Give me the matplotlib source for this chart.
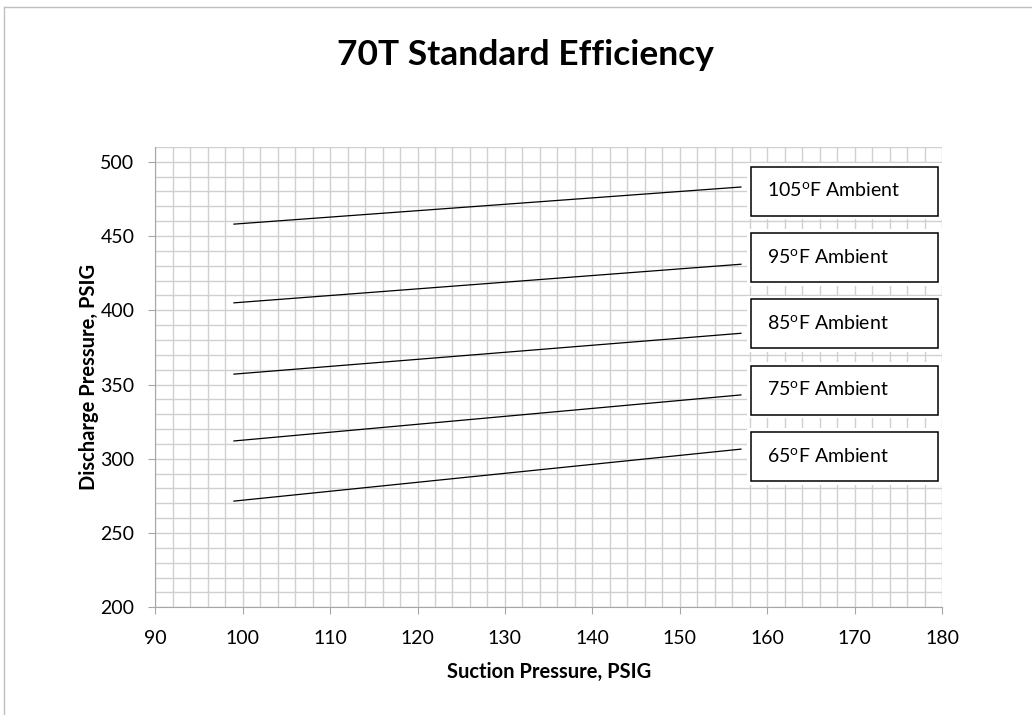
import matplotlib.pyplot as plt
from matplotlib.patches import Rectangle
from matplotlib.lines import Line2D
from matplotlib.ticker import MultipleLocator

plt.rcParams['font.family'] = ['Lato', 'DejaVu Sans']
plt.rcParams['mathtext.fontset'] = 'custom'
plt.rcParams['mathtext.rm'] = 'Lato'

# suction pressure end points and discharge pressure per ambient temperature
suction = [99, 157]
ambients = [105, 95, 85, 75, 65]
discharge = {
    105: [458, 483],
    95: [405, 431],
    85: [357, 384.5],
    75: [312, 343],
    65: [271.5, 306.5],
}

W, H = 1032, 715
fig = plt.figure(figsize=(W / 100, H / 100), dpi=100)
ax = fig.add_axes([155.3 / W, 1 - 607.3 / H, 786.7 / W, 460.4 / H])

grid_c = '#d0d0d0'
ax.set_xlim(90, 180)
ax.set_ylim(200, 510)
ax.xaxis.set_major_locator(MultipleLocator(10))
ax.yaxis.set_major_locator(MultipleLocator(50))
ax.xaxis.set_minor_locator(MultipleLocator(2))
ax.yaxis.set_minor_locator(MultipleLocator(10))
ax.grid(which='both', color=grid_c, linewidth=1.0)
ax.set_axisbelow(True)
ax.tick_params(which='major', direction='out', length=5, width=0.8, color='#a6a6a6',
               labelsize=14, pad=11)
ax.tick_params(axis='y', pad=10)
ax.tick_params(which='minor', length=0)
for s in ['top', 'right']:
    ax.spines[s].set_visible(False)
for s in ['left', 'bottom']:
    ax.spines[s].set_color('#a6a6a6')
    ax.spines[s].set_linewidth(0.8)

for t in ambients:
    ax.plot(suction, discharge[t], color='black', linewidth=0.9)

# ambient labels in boxes to the right of the line ends
bx0, bx1 = 0.7576, 0.9949
bh = 49 / 460.4
for i, t in enumerate(ambients):
    cy = 0.904 - i * 0.1441
    ax.add_patch(Rectangle((bx0 - 0.005, cy - bh / 2 - 0.008), bx1 - bx0 + 0.01, bh + 0.016,
                           transform=ax.transAxes, facecolor='white', edgecolor='none',
                           zorder=3))
    ax.add_patch(Rectangle((bx0, cy - bh / 2), bx1 - bx0, bh, transform=ax.transAxes,
                           facecolor='white', edgecolor='black', linewidth=1.1, zorder=4))
    ax.text(bx0 + 16 / 786.7, cy, rf'{t}$^{{\mathregular{{o}}}}$F Ambient',
            transform=ax.transAxes, ha='left', va='center', fontsize=14, zorder=5)

ax.set_xlabel('Suction Pressure, PSIG', fontsize=14.5, fontweight='bold')
ax.set_ylabel('Discharge Pressure, PSIG', fontsize=14.5, fontweight='bold')
ax.xaxis.set_label_coords(0.5, -0.119)
ax.yaxis.set_label_coords(-0.071, 0.5)

fig.text(525 / W, 1 - 55 / H, '70T Standard Efficiency', ha='center', va='center',
         fontsize=25.5, fontweight='bold')

# chart frame
fig.add_artist(Line2D([4 / W, 4 / W], [0, 1 - 7 / H], color='#bfbfbf', linewidth=1.0,
                      transform=fig.transFigure))
fig.add_artist(Line2D([4 / W, 1], [1 - 7 / H, 1 - 7 / H], color='#bfbfbf', linewidth=1.0,
                      transform=fig.transFigure))

fig.savefig('out.png', dpi=100, facecolor='white')
